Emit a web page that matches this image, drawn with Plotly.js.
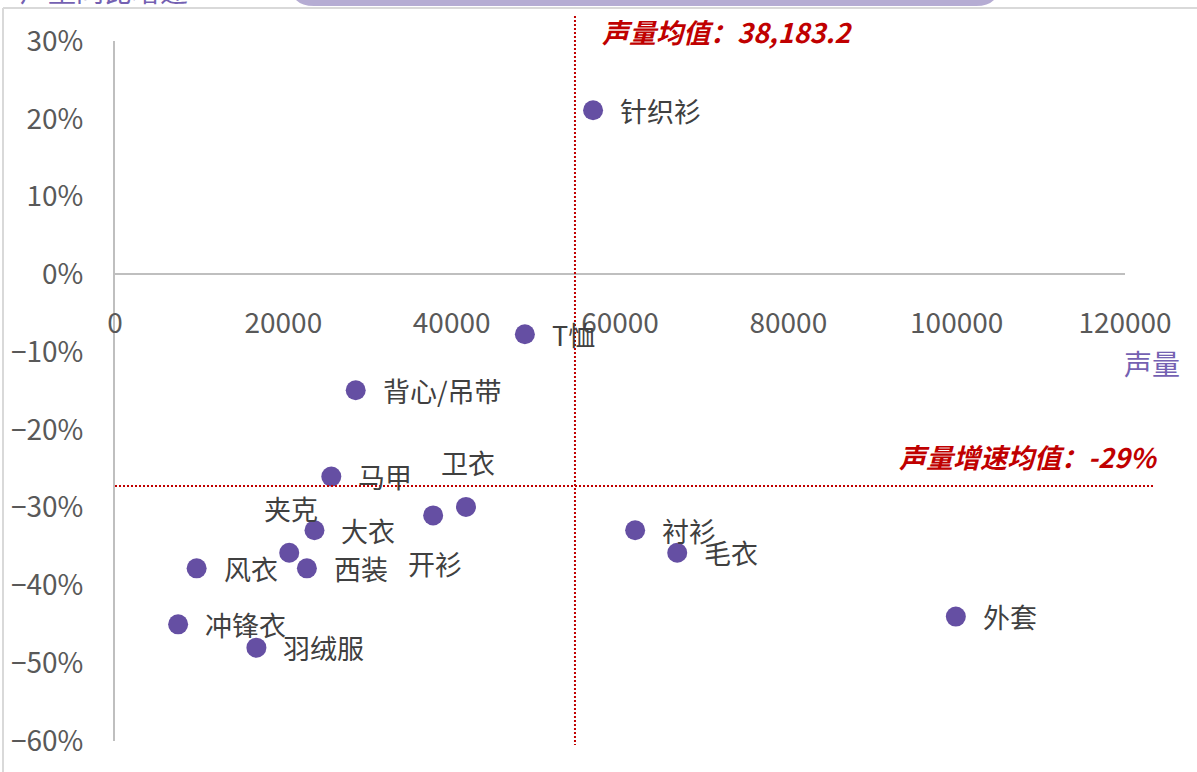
<!DOCTYPE html>
<html>
<head>
<meta charset="utf-8">
<script src="https://cdn.plot.ly/plotly-3.0.1.min.js"></script>
<style>
html,body{margin:0;padding:0;background:#fff;overflow:hidden;}
#chart{width:1197px;height:772px;}
</style>
</head>
<body>
<div id="chart"></div>
<script>
// ---- data ----
const categories = ["针织衫","T恤","背心/吊带","马甲","卫衣","开衫","大衣","夹克","西装","风衣","冲锋衣","羽绒服","衬衫","毛衣","外套"];
const volume     = [56800, 48700, 28600, 25700, 41700, 37800, 23700, 20700, 22800, 9700, 7500, 16800, 61800, 66800, 99900];
const growth     = [0.211, -0.077, -0.149, -0.26, -0.299, -0.31, -0.329, -0.358, -0.378, -0.378, -0.45, -0.48, -0.329, -0.358, -0.44];
const labelSide  = ["right","right","right","right","above","below","right","above","right","right","right","right","right","right","right"];
const xTicks     = [0, 20000, 40000, 60000, 80000, 100000, 120000];
const yTicks     = [0.3, 0.2, 0.1, 0, -0.1, -0.2, -0.3, -0.4, -0.5, -0.6];
const meanVolumeLine = 54650;   // where the reference draws the vertical mean line
const meanGrowthLine = -0.272;  // where the reference draws the horizontal mean line
const meanVolumeText = "声量均值：38,183.2";
const meanGrowthText = "声量增速均值：-29%";
const xTitleText = "声量";
const yTitleText = "声量同比增速";

// ---- geometry helpers (pixel -> paper) ----
const W = 1197, H = 772;
const mL = 115, mR = 72, mT = 41, mB = 31;
const pw = W - mL - mR, ph = H - mT - mB;
const px = v => (v - mL) / pw;
const py = v => (H - mB - v) / ph;

const FONT = '"Noto Sans CJK SC", "Noto Sans", sans-serif';
const purple = '#654FA3';
const red = '#C00000';

const trace = {
  type: 'scatter', mode: 'markers',
  x: volume, y: growth, text: categories,
  marker: {size: 20, color: purple},
  hoverinfo: 'text+x+y', cliponaxis: false
};

const annotations = categories.map((c, i) => {
  const side = labelSide[i];
  const a = {x: volume[i], y: growth[i], xref: 'x', yref: 'y', text: c, showarrow: false,
    font: {family: FONT, size: 27, color: '#404040'}};
  if (side === 'right') { a.xanchor = 'left'; a.xshift = 25; a.yshift = 0; }
  else if (side === 'above') { a.xanchor = 'center'; a.yshift = 44; a.xshift = 2; }
  else { a.xanchor = 'center'; a.yshift = -48; a.xshift = 2; }
  return a;
});

annotations.push(
  {xref: 'paper', yref: 'paper', x: px(600), y: py(32), xanchor: 'left', yanchor: 'middle', showarrow: false,
   text: '<b><i>' + meanVolumeText + '</i></b>', font: {family: FONT, size: 27, color: red}},
  {xref: 'paper', yref: 'paper', x: px(1160), y: py(456), xanchor: 'right', yanchor: 'middle', showarrow: false,
   text: '<b><i>' + meanGrowthText + '</i></b>', font: {family: FONT, size: 27, color: red}},
  {xref: 'paper', yref: 'paper', x: px(1182), y: py(363), xanchor: 'right', yanchor: 'middle', showarrow: false,
   text: xTitleText, font: {family: FONT, size: 28, color: '#7461B2'}},
  {xref: 'paper', yref: 'paper', x: px(18), y: py(-10), xanchor: 'left', yanchor: 'middle', showarrow: false,
   text: yTitleText, font: {family: FONT, size: 28, color: '#7461B2'}}
);

// rounded purple banner at top (pixel coords converted)
function bannerPath() {
  const x0 = 290, x1 = 1000, yTop = -40, yBot = 6, r = 24;
  const P = (x, y) => px(x) + ',' + py(y);
  return 'M' + P(x0, yTop) + ' L' + P(x0, yBot - r) + ' Q' + P(x0, yBot) + ' ' + P(x0 + r, yBot) +
         ' L' + P(x1 - r, yBot) + ' Q' + P(x1, yBot) + ' ' + P(x1, yBot - r) + ' L' + P(x1, yTop) + ' Z';
}

const shapes = [
  {type: 'path', xref: 'paper', yref: 'paper', path: bannerPath(), fillcolor: '#B5ACD3', line: {width: 0}, layer: 'below'},
  {type: 'line', xref: 'paper', yref: 'paper', x0: px(3), x1: px(1200), y0: py(8), y1: py(8), line: {color: '#D9D9D9', width: 2}},
  {type: 'line', xref: 'paper', yref: 'paper', x0: px(3), x1: px(3), y0: py(8), y1: py(775), line: {color: '#D9D9D9', width: 2}},
  {type: 'line', xref: 'x', yref: 'paper', x0: meanVolumeLine, x1: meanVolumeLine, y0: py(16), y1: py(745),
   line: {color: red, width: 2, dash: '2px,2px'}},
  {type: 'line', xref: 'paper', yref: 'y', x0: 0, x1: px(1155), y0: meanGrowthLine, y1: meanGrowthLine,
   line: {color: red, width: 2, dash: '2px,2px'}}
];

const layout = {
  width: W, height: H,
  margin: {l: mL, r: mR, t: mT, b: mB, pad: 0},
  paper_bgcolor: '#fff', plot_bgcolor: 'rgba(0,0,0,0)',
  showlegend: false,
  font: {family: FONT, color: '#595959'},
  xaxis: {
    range: [0, 120000], tickvals: xTicks, tickformat: 'd',
    anchor: 'free', position: 0.6 / 0.9,
    showline: true, linecolor: '#BFBFBF', linewidth: 2,
    showgrid: false, zeroline: false,
    ticks: 'outside', ticklen: 24, tickcolor: 'rgba(0,0,0,0)',
    tickfont: {family: FONT, size: 28, color: '#595959'}
  },
  yaxis: {
    range: [-0.6, 0.3], tickvals: yTicks, tickformat: '.0%',
    showline: true, linecolor: '#BFBFBF', linewidth: 2,
    showgrid: false, zeroline: false,
    ticks: 'outside', ticklen: 24, tickcolor: 'rgba(0,0,0,0)',
    tickfont: {family: FONT, size: 28, color: '#595959'}
  },
  shapes: shapes,
  annotations: annotations
};

Plotly.newPlot('chart', [trace], layout, {displayModeBar: false, staticPlot: true});
</script>
</body>
</html>
